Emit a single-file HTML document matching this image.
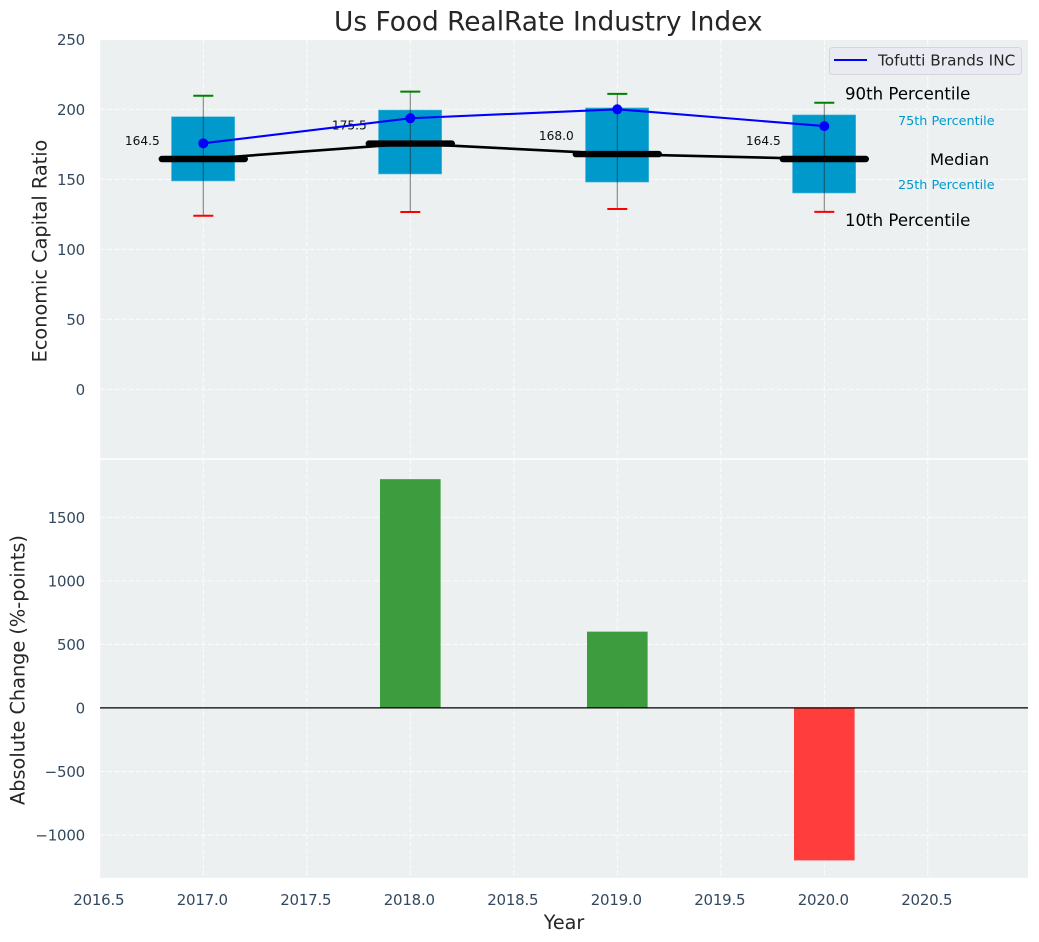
<!DOCTYPE html>
<html>
<head>
<meta charset="utf-8">
<title>Us Food RealRate Industry Index</title>
<style>
html,body{margin:0;padding:0;background:#fff;width:1039px;height:942px;overflow:hidden}
svg{display:block}
text{font-family:"DejaVu Sans","Liberation Sans",sans-serif}
</style>
</head>
<body>
<svg id="chart" xmlns="http://www.w3.org/2000/svg" width="1039" height="942" viewBox="0 0 1039 942"></svg>
<script>
const years = [2017, 2018, 2019, 2020];
const p90 = [209.7, 212.6, 211, 204.7];
const p75 = [194.7, 199.5, 201, 196];
const medians = [164.5, 175.5, 168, 164.5];
const p25 = [148.8, 153.8, 148, 140.2];
const p10 = [124, 126.6, 128.8, 126.7];
const companyValues = [175.7, 193.6, 200, 188];
const changeValues = [0, 1800, 600, -1200];
const xTicks = [2016.5, 2017, 2017.5, 2018, 2018.5, 2019, 2019.5, 2020, 2020.5];
const xTickLabels = ['2016.5', '2017.0', '2017.5', '2018.0', '2018.5', '2019.0', '2019.5', '2020.0', '2020.5'];
const topTicks = [0, 50, 100, 150, 200, 250];
const bottomTicks = [-1000, -500, 0, 500, 1000, 1500];
const medianLabels = ['164.5', '175.5', '168.0', '164.5'];

const NS = 'http://www.w3.org/2000/svg';
const svg = document.getElementById('chart');
const L = 100, R = 1028, T1 = 40, B1 = 458.3, T2 = 459.8, B2 = 877.8;
const xs = v => 203.3 + (v - 2017) * 207;
const yTop = v => 389.3 - v * 1.4;
const yBot = v => 707.9 - v * 0.12708;

function mk(tag, attrs, name, txt) {
  const el = document.createElementNS(NS, tag);
  for (const k in attrs) el.setAttribute(k, attrs[k]);
  
  
  if (txt !== undefined) el.textContent = txt;
  svg.appendChild(el);
  return el;
}
function line(x1, y1, x2, y2, style, name) {
  return mk('line', Object.assign({x1, y1, x2, y2}, style), name);
}
const gridStyle = {stroke: '#ffffff', 'stroke-width': 1, 'stroke-dasharray': '5,2.2', 'stroke-opacity': 0.85};
const tickColor = '#34495e';
const tickFont = {'font-size': 15, 'letter-spacing': '-0.22px', fill: tickColor};

/* axes backgrounds */
mk('rect', {x: L, y: T1, width: R - L, height: B1 - T1, fill: '#ecf0f1'}, 'top-plot-area');
mk('rect', {x: L, y: T2, width: R - L, height: B2 - T2, fill: '#ecf0f1'}, 'bottom-plot-area');

/* grids */
xTicks.forEach(v => {
  line(xs(v), T1, xs(v), B1, gridStyle, 'top-x-gridline');
  line(xs(v), T2, xs(v), B2, gridStyle, 'bottom-x-gridline');
});
topTicks.forEach(v => line(L, yTop(v), R, yTop(v), gridStyle, 'top-y-gridline'));
bottomTicks.forEach(v => line(L, yBot(v), R, yBot(v), gridStyle, 'bottom-y-gridline'));

/* boxes */
years.forEach((yr, i) => {
  const x = xs(yr);
  mk('rect', {x: x - 31.8, y: yTop(p75[i]), width: 63.2, height: yTop(p25[i]) - yTop(p75[i]), fill: '#0099cc', stroke: '#5dbcdc', 'stroke-width': 0.6}, 'iqr-box-' + yr);
});

/* whiskers and caps */
years.forEach((yr, i) => {
  const x = xs(yr);
  line(x, yTop(p90[i]), x, yTop(p10[i]), {stroke: '#222222', 'stroke-width': 1.1, 'stroke-opacity': 0.55}, 'whisker-' + yr);
  line(x - 10, yTop(p90[i]), x + 10, yTop(p90[i]), {stroke: '#008000', 'stroke-width': 2}, 'p90-cap-' + yr);
  line(x - 10, yTop(p10[i]), x + 10, yTop(p10[i]), {stroke: '#ff0000', 'stroke-width': 2}, 'p10-cap-' + yr);
});

/* median trend and bars */
mk('polyline', {points: years.map((yr, i) => xs(yr) + ',' + yTop(medians[i])).join(' '), fill: 'none', stroke: '#000', 'stroke-width': 2.6}, 'median-trend-line');
years.forEach((yr, i) => {
  const x = xs(yr), y = yTop(medians[i]);
  line(x - 41.5, y, x + 41.5, y, {stroke: '#000', 'stroke-width': 6.4, 'stroke-linecap': 'round'}, 'median-bar-' + yr);
  mk('text', {x: x - 43.5, y: y - 14, 'text-anchor': 'end', 'font-size': 12.2, fill: '#111'}, 'median-label-' + yr, medianLabels[i]);
});

/* company line */
mk('polyline', {points: years.map((yr, i) => xs(yr) + ',' + yTop(companyValues[i])).join(' '), fill: 'none', stroke: '#0000ff', 'stroke-width': 2.1}, 'company-line');
years.forEach((yr, i) => {
  mk('circle', {cx: xs(yr), cy: yTop(companyValues[i]), r: 5, fill: '#0000ff'}, 'company-point-' + yr);
});

/* percentile annotations */
const n = years.length - 1;
mk('text', {x: 845, y: yTop(p90[n]) - 3, 'font-size': 16.6, fill: '#000'}, 'annotation-90th', '90th Percentile');
mk('text', {x: 898, y: yTop(p75[n]) + 10, 'font-size': 12.8, fill: '#0099cc'}, 'annotation-75th', '75th Percentile');
mk('text', {x: 930, y: yTop(medians[n]) + 6, 'font-size': 16.3, fill: '#000'}, 'annotation-median', 'Median');
mk('text', {x: 898, y: yTop(p25[n]) - 4, 'font-size': 12.8, fill: '#0099cc'}, 'annotation-25th', '25th Percentile');
mk('text', {x: 845, y: yTop(p10[n]) + 14, 'font-size': 16.6, fill: '#000'}, 'annotation-10th', '10th Percentile');

/* legend */
mk('rect', {x: 829.5, y: 47.5, width: 192, height: 27, rx: 3, fill: '#eaeaf2', stroke: '#d4d6dc', 'stroke-width': 1}, 'legend-box');
line(834, 60, 867, 60, {stroke: '#0000ff', 'stroke-width': 2}, 'legend-line');
mk('text', {x: 878, y: 65.5, 'font-size': 15.3, fill: '#262626'}, 'legend-label', 'Tofutti Brands INC');

/* change bars */
years.forEach((yr, i) => {
  const v = changeValues[i];
  if (!v) return;
  const y0 = yBot(Math.max(v, 0)), y1 = yBot(Math.min(v, 0));
  mk('rect', {x: xs(yr) - 30.3, y: y0, width: 60.6, height: y1 - y0, fill: v > 0 ? '#3d9c3d' : '#ff3d3d'}, 'change-bar-' + yr);
});
line(L, yBot(0), R, yBot(0), {stroke: '#000', 'stroke-width': 1.2}, 'zero-line');

/* tick labels */
xTicks.forEach((v, i) => {
  mk('text', Object.assign({x: xs(v) - 1, y: 905, 'text-anchor': 'middle'}, tickFont), 'x-tick-label', xTickLabels[i]);
});
topTicks.forEach(v => {
  mk('text', Object.assign({x: 85, y: yTop(v) + 5.5, 'text-anchor': 'end'}, tickFont), 'top-y-tick-label', String(v));
});
bottomTicks.forEach(v => {
  mk('text', Object.assign({x: 85, y: yBot(v) + 5.5, 'text-anchor': 'end'}, tickFont), 'bottom-y-tick-label', String(v).replace('-', '\u2212'));
});

/* titles */
mk('text', {x: 548.3, y: 30.3, 'text-anchor': 'middle', 'font-size': 26.4, fill: '#262626'}, 'chart-title', 'Us Food RealRate Industry Index');
mk('text', {x: 564, y: 929, 'text-anchor': 'middle', 'font-size': 19.2, fill: '#262626'}, 'x-axis-title', 'Year');
mk('text', {transform: 'translate(46.5,251) rotate(-90)', 'text-anchor': 'middle', 'font-size': 19.3, fill: '#262626'}, 'top-y-axis-title', 'Economic Capital Ratio');
mk('text', {transform: 'translate(24.5,670) rotate(-90)', 'text-anchor': 'middle', 'font-size': 19.3, fill: '#262626'}, 'bottom-y-axis-title', 'Absolute Change (%-points)');
</script>
</body>
</html>
